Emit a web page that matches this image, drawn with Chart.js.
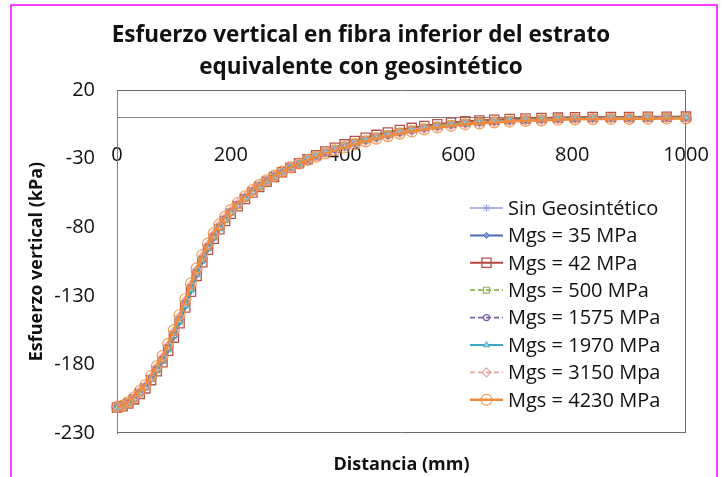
<!DOCTYPE html>
<html><head><meta charset="utf-8">
<script src="https://cdn.jsdelivr.net/npm/chart.js@4.4.0/dist/chart.umd.min.js"></script>
<style>html,body{margin:0;padding:0;background:#fff;}#wrap{width:722px;height:477px;position:relative;}</style>
</head><body><div id="wrap"><canvas id="c" width="722" height="477"></canvas></div>
<script>
const distancia = [0,10,20,30,40,50,60,70,80,90,100,110,120,130,140,150,160,170,180,190,200,212,225,238,250,263,276,290,305,320,335,350,366,383,400,418,437,456,476,497,518,540,563,587,612,637,663,690,718,746,775,805,836,868,900,933,966,1000];
const sinGeosintetico = [-211.5,-210.5,-208.4,-205.4,-201.3,-197.3,-191.2,-184.7,-178.1,-169.5,-160,-149.4,-137.9,-126.4,-115,-105,-96,-88.1,-81.2,-75.2,-69.9,-64.6,-59.3,-54.5,-50.6,-46.8,-43.3,-40,-36.6,-33.4,-30.8,-28.4,-26,-23.7,-21.5,-19.3,-17.2,-15.2,-13.4,-11.6,-10,-8.5,-7.1,-5.9,-4.8,-4.1,-3.4,-2.8,-2.3,-1.9,-1.5,-1.2,-1,-0.9,-0.8,-0.7,-0.6,-0.5];
const mgs35 = [-211.4,-210.4,-208.4,-205.3,-201.2,-197.1,-191.1,-184.5,-177.8,-169.3,-159.7,-149.1,-137.6,-126.1,-114.7,-104.8,-95.8,-87.9,-81,-75.1,-69.8,-64.5,-59.2,-54.5,-50.5,-46.7,-43.3,-39.9,-36.6,-33.4,-30.7,-28.3,-25.9,-23.6,-21.4,-19.2,-17.1,-15.1,-13.3,-11.5,-9.9,-8.4,-7,-5.8,-4.7,-4,-3.3,-2.7,-2.2,-1.8,-1.4,-1.1,-0.9,-0.8,-0.7,-0.6,-0.5,-0.4];
const mgs42 = [-211.5,-210.5,-208.5,-205.5,-201.5,-197.5,-191.5,-185,-178.5,-170,-160.5,-150,-138.5,-127,-115.5,-105.5,-96.5,-88.5,-81.5,-75.5,-70.2,-64.8,-59.5,-54.7,-50.7,-46.9,-43.4,-40,-36.6,-33.4,-30.4,-27.6,-24.8,-22.1,-19.6,-17.1,-14.8,-12.7,-10.9,-9.1,-7.6,-6.2,-4.9,-3.8,-2.8,-2.2,-1.6,-1.1,-0.7,-0.4,-0.1,0.2,0.3,0.4,0.4,0.5,0.5,0.6];
const mgs500 = [-211.3,-210.3,-208.1,-204.9,-200.7,-196.5,-190.3,-183.6,-176.7,-168,-158.3,-147.6,-136.1,-124.6,-113.3,-103.5,-94.7,-86.9,-80.1,-74.3,-69.1,-63.9,-58.7,-54,-50.1,-46.5,-43.1,-39.8,-36.5,-33.5,-30.6,-28,-25.4,-22.9,-20.5,-18.1,-15.9,-13.8,-12,-10.2,-8.7,-7.2,-5.9,-4.7,-3.7,-3,-2.4,-1.8,-1.4,-1,-0.7,-0.4,-0.2,-0.2,-0.1,0,0,0.1];
const mgs1575 = [-211.2,-210.2,-208,-204.7,-200.4,-196.1,-189.9,-183.1,-176,-167.3,-157.5,-146.7,-135.2,-123.7,-112.5,-102.8,-94,-86.3,-79.6,-73.9,-68.7,-63.5,-58.4,-53.8,-49.9,-46.3,-43,-39.7,-36.5,-33.5,-30.5,-28.1,-25.7,-23.4,-21.2,-19,-16.9,-14.9,-13.1,-11.3,-9.7,-8.2,-6.8,-5.6,-4.5,-3.8,-3.1,-2.5,-2,-1.6,-1.2,-0.9,-0.7,-0.6,-0.5,-0.4,-0.3,-0.2];
const mgs1970 = [-211.4,-210.4,-208.3,-205.1,-201,-196.9,-190.8,-184.1,-177.4,-168.8,-159.1,-148.5,-137,-125.5,-114.1,-104.3,-95.4,-87.5,-80.6,-74.8,-69.5,-64.2,-59,-54.3,-50.3,-46.6,-43.2,-39.9,-36.6,-33.5,-30.4,-28,-25.6,-23.3,-21.1,-18.9,-16.8,-14.8,-13,-11.2,-9.6,-8.1,-6.7,-5.5,-4.4,-3.7,-3,-2.4,-1.9,-1.5,-1.1,-0.8,-0.6,-0.5,-0.4,-0.3,-0.2,-0.1];
const mgs3150 = [-211,-210,-207.7,-204.3,-199.9,-195.5,-189.1,-182.2,-174.9,-166,-156.1,-145.2,-133.7,-122.2,-111.1,-101.5,-92.9,-85.3,-78.7,-73.1,-68,-63,-57.9,-53.3,-49.6,-46,-42.8,-39.6,-36.4,-33.6,-30.7,-28.3,-25.9,-23.6,-21.4,-19.2,-17.1,-15.1,-13.3,-11.5,-9.9,-8.4,-7,-5.8,-4.7,-4,-3.3,-2.7,-2.2,-1.8,-1.4,-1.1,-0.9,-0.8,-0.7,-0.6,-0.5,-0.4];
const mgs4230 = [-211,-210,-207.5,-204,-199.5,-195,-188.5,-181.5,-174,-165,-155,-144,-132.5,-121,-110,-100.5,-92,-84.5,-78,-72.5,-67.5,-62.5,-57.5,-53,-49.3,-45.8,-42.6,-39.5,-36.4,-33.6,-31,-28.6,-26.2,-23.9,-21.7,-19.5,-17.4,-15.4,-13.6,-11.8,-10.2,-8.7,-7.3,-6.1,-5,-4.3,-3.6,-3,-2.5,-2.1,-1.7,-1.4,-1.2,-1.1,-1,-0.9,-0.8,-0.7];

const seriesLabels = ['Sin Geosintético','Mgs = 35 MPa','Mgs = 42 MPa','Mgs = 500 MPa','Mgs = 1575 MPa','Mgs = 1970 MPa','Mgs = 3150 Mpa','Mgs = 4230 MPa'];
const xTicks = [0,200,400,600,800,1000];
const yTicks = [-230,-180,-130,-80,-30,20];
const titleLines = ['Esfuerzo vertical en fibra inferior del estrato','equivalente con geosintético'];
const xTitle = 'Distancia (mm)';
const yTitle = 'Esfuerzo vertical (kPa)';

const values = [sinGeosintetico, mgs35, mgs42, mgs500, mgs1575, mgs1970, mgs3150, mgs4230];
const styles = [
  {c:'#93A3DC', lw:1.5, dash:[], ps:'star', r:4, pc:'#8E9FDA', pf:'rgba(0,0,0,0)', pbw:1},
  {c:'#4A6DB3', lw:2, dash:[], ps:'rectRot', r:3, pc:'#4A6DB3', pf:'#7D9AD6', pbw:1},
  {c:'#B5453F', lw:2, dash:[], ps:'rect', r:6.5, pc:'#B9514B', pf:'rgba(0,0,0,0)', pbw:1.3},
  {c:'#8DB553', lw:1.8, dash:[5,3], ps:'rect', r:4.2, pc:'#8DB553', pf:'rgba(0,0,0,0)', pbw:1.2},
  {c:'#7A60A3', lw:1.8, dash:[5,3], ps:'circle', r:3, pc:'#7A60A3', pf:'rgba(0,0,0,0)', pbw:1.2},
  {c:'#40A8C4', lw:2, dash:[], ps:'triangle', r:3.5, pc:'#40A8C4', pf:'#A8D8E6', pbw:1},
  {c:'#E5A3A1', lw:1.8, dash:[5,3], ps:'rectRot', r:4.5, pc:'#E5A3A1', pf:'rgba(0,0,0,0)', pbw:1.2},
  {c:'#F08A3C', lw:2.5, dash:[], ps:'circle', r:5.5, pc:'rgba(240,140,62,0.85)', pf:'rgba(0,0,0,0)', pbw:1.2}
];

const datasets = values.map((vals, i) => ({
  label: seriesLabels[i],
  data: distancia.map((d, j) => ({x: d, y: vals[j]})),
  borderColor: styles[i].c, borderWidth: styles[i].lw, borderDash: styles[i].dash,
  pointStyle: styles[i].ps, pointRadius: styles[i].r, pointBorderColor: styles[i].pc,
  pointBackgroundColor: styles[i].pf, pointBorderWidth: styles[i].pbw,
  pointHoverRadius: styles[i].r, tension: 0, fill: false, clip: false, order: 7 - i
}));

const framePlugin = {
  id: 'frame',
  beforeDraw(chart) {
    const ctx = chart.ctx;
    ctx.save();
    ctx.fillStyle = '#fff'; ctx.fillRect(0, 0, chart.width, chart.height);
    ctx.strokeStyle = '#FF00FF'; ctx.lineWidth = 1.5;
    ctx.strokeRect(11, 5, 706, 500);
    ctx.restore();
  },
  beforeDatasetsDraw(chart) {
    const a = chart.chartArea, ctx = chart.ctx;
    ctx.save();
    ctx.strokeStyle = '#6b6b6b'; ctx.lineWidth = 1;
    ctx.beginPath();
    ctx.moveTo(a.left, a.top + 0.5); ctx.lineTo(a.right, a.top + 0.5);
    ctx.moveTo(a.right - 0.5, a.top); ctx.lineTo(a.right - 0.5, a.bottom);
    ctx.moveTo(a.left, a.bottom - 0.5); ctx.lineTo(a.right, a.bottom - 0.5);
    ctx.stroke();
    ctx.restore();
  }
};

const legendPlugin = {
  id: 'customLegend',
  afterDraw(chart) {
    const ctx = chart.ctx;
    const x0 = 470, x1 = 503, tx = 508, y0 = 208, dy = 27.4;
    chart.data.datasets.forEach((ds, i) => {
      const y = y0 + i * dy;
      ctx.save();
      ctx.strokeStyle = ds.borderColor; ctx.lineWidth = ds.borderWidth;
      ctx.setLineDash(ds.borderDash || []);
      ctx.beginPath(); ctx.moveTo(x0, y); ctx.lineTo(x1, y); ctx.stroke();
      ctx.setLineDash([]);
      ctx.strokeStyle = ds.pointBorderColor; ctx.fillStyle = ds.pointBackgroundColor;
      ctx.lineWidth = ds.pointBorderWidth;
      Chart.helpers.drawPoint(ctx, {pointStyle: ds.pointStyle, radius: ds.pointRadius, rotation: 0, borderWidth: ds.pointBorderWidth}, (x0 + x1) / 2, y);
      ctx.fillStyle = '#111'; ctx.font = '20px "Open Sans"';
      ctx.textBaseline = 'middle'; ctx.textAlign = 'left';
      ctx.fillText(ds.label, tx, y + 1);
      ctx.restore();
    });
  }
};

Chart.defaults.font.family = "'Open Sans', sans-serif";

new Chart(document.getElementById('c'), {
  type: 'line',
  data: {datasets},
  options: {
    responsive: false, animation: false, devicePixelRatio: 1,
    layout: {padding: 0},
    plugins: {
      legend: {display: false}, tooltip: {enabled: false},
      title: {display: true, text: titleLines, color: '#111',
        font: {size: 22.5, weight: 'bold', lineHeight: '32px'}, padding: {top: 20, bottom: 6}}
    },
    scales: {
      x: {type: 'linear', min: 0, max: 1000, position: {y: 0},
        afterBuildTicks: s => { s.ticks = xTicks.map(v => ({value: v})); },
        grid: {display: false, drawTicks: false, tickLength: 0},
        border: {display: true, color: '#808080', width: 1},
        ticks: {padding: 2, color: '#111', font: {size: 20, lineHeight: 1.2}, maxRotation: 0, autoSkip: false,
          callback: v => ['', String(v)]}},
      xb: {type: 'linear', position: 'bottom', min: 0, max: 1000,
        grid: {display: false, drawTicks: false}, border: {display: false}, ticks: {display: false},
        title: {display: true, text: xTitle, color: '#111', font: {size: 18, weight: 'bold'}, padding: {top: 0, bottom: 1}},
        afterFit: s => { s.height = 44; }},
      y: {type: 'linear', position: 'left', min: -230, max: 20,
        afterBuildTicks: s => { s.ticks = yTicks.map(v => ({value: v})); },
        grid: {display: false, drawTicks: false, tickLength: 0},
        border: {display: true, color: '#808080', width: 1},
        ticks: {padding: 22, color: '#111', font: {size: 20}, autoSkip: false},
        title: {display: true, text: yTitle, color: '#111', font: {size: 18, weight: 'bold'}, padding: {top: 26, bottom: 0}},
        afterFit: s => { s.width = 117; }},
      yr: {type: 'linear', position: 'right', min: -230, max: 20,
        grid: {display: false, drawTicks: false}, border: {display: false}, ticks: {display: false},
        afterFit: s => { s.width = 36; }}
    }
  },
  plugins: [framePlugin, legendPlugin]
});
</script></body></html>
